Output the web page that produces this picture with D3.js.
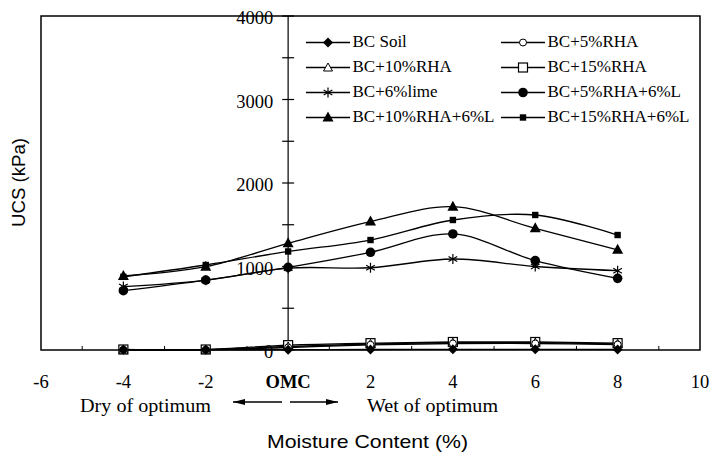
<!DOCTYPE html>
<html><head><meta charset="utf-8">
<script src="https://cdn.jsdelivr.net/npm/d3@7"></script>
<style>
body{margin:0;background:#fff;}
text{fill:#000;}
</style></head>
<body>
<svg id="c" width="711" height="453"></svg>
<script>
const moisture = [-4, -2, 0, 2, 4, 6, 8];
const seriesNames = ["BC Soil", "BC+5%RHA", "BC+10%RHA", "BC+15%RHA", "BC+6%lime", "BC+5%RHA+6%L", "BC+10%RHA+6%L", "BC+15%RHA+6%L"];
const bcSoil      = [2, 2, 4, 6, 8, 8, 6];
const bc5RHA      = [4, 4, 30, 62, 78, 78, 66];
const bc10RHA     = [5, 5, 42, 72, 88, 88, 74];
const bc15RHA     = [6, 6, 58, 82, 96, 96, 82];
const bc6Lime     = [760, 835, 980, 985, 1090, 1000, 950];
const bc5RHA6L    = [710, 838, 990, 1170, 1390, 1070, 858];
const bc10RHA6L   = [886, 998, 1278, 1538, 1716, 1457, 1200];
const bc15RHA6L   = [876, 1018, 1180, 1317, 1557, 1617, 1377];
const xTickLabels = ["-6", "-4", "-2", "OMC", "2", "4", "6", "8", "10"];
const yTickLabels = ["0", "1000", "2000", "3000", "4000"];

const values = [bcSoil, bc5RHA, bc10RHA, bc15RHA, bc6Lime, bc5RHA6L, bc10RHA6L, bc15RHA6L];
const markers = ["diamond", "ocircle", "otriangle", "osquare", "asterisk", "circle", "triangle", "smallsquare"];

const svg = d3.select("#c");
const L = 41, R = 700, T = 16, B = 350;
const x = d3.scaleLinear().domain([-6, 10]).range([L, R]);
const y = d3.scaleLinear().domain([0, 4000]).range([B, T]);
const serif = "'Liberation Serif','Times New Roman',serif";
const sans = "'Liberation Sans',Arial,sans-serif";

// frame
svg.append("rect").attr("x", L).attr("y", T).attr("width", R - L).attr("height", B - T)
  .attr("fill", "none").attr("stroke", "#000").attr("stroke-width", 1.5);

// x ticks (inward)
const xg = svg.append("g");
d3.range(-5, 10, 1).forEach(v => {
  xg.append("line").attr("x1", x(v)).attr("x2", x(v)).attr("y1", B).attr("y2", B - 4)
    .attr("stroke", "#000").attr("stroke-width", 1);
});
d3.range(-6, 11, 2).forEach((v, i) => {
  xg.append("text").attr("x", x(v)).attr("y", 388).attr("text-anchor", "middle")
    .attr("font-family", serif).attr("font-size", 18.5)
    .attr("font-weight", xTickLabels[i] === "OMC" ? "bold" : "normal")
    .text(xTickLabels[i]);
});

// y axis at x = 0
const yg = svg.append("g");
yg.append("line").attr("x1", x(0)).attr("x2", x(0)).attr("y1", T).attr("y2", B)
  .attr("stroke", "#000").attr("stroke-width", 1.2);
d3.range(0, 4001, 500).forEach(v => {
  yg.append("line").attr("x1", x(0) - 6).attr("x2", x(0) + 6).attr("y1", y(v)).attr("y2", y(v))
    .attr("stroke", "#000").attr("stroke-width", 1.2);
});
yTickLabels.forEach(t => {
  yg.append("text").attr("x", x(0) - 15).attr("y", y(+t) + 8).attr("text-anchor", "end")
    .attr("font-family", serif).attr("font-size", 18.5).text(t);
});

// marker drawing
function drawMarker(g, type, cx, cy) {
  const s = g.append("g").attr("transform", `translate(${cx},${cy})`);
  switch (type) {
    case "diamond":
      s.append("path").attr("d", "M0,-5L5,0L0,5L-5,0Z").attr("fill", "#000"); break;
    case "ocircle":
      s.append("circle").attr("r", 3.5).attr("fill", "#fff").attr("stroke", "#000").attr("stroke-width", 1); break;
    case "otriangle":
      s.append("path").attr("d", "M0,-4.5L4.5,3.5L-4.5,3.5Z").attr("fill", "#fff").attr("stroke", "#000").attr("stroke-width", 1); break;
    case "osquare":
      s.append("rect").attr("x", -4.5).attr("y", -4.5).attr("width", 9).attr("height", 9)
        .attr("fill", "#fff").attr("stroke", "#000").attr("stroke-width", 1.2); break;
    case "asterisk":
      s.append("path").attr("d", d3.symbol().type(d3.symbolAsterisk).size(70)()).attr("fill", "none")
        .attr("stroke", "#000").attr("stroke-width", 1.2); break;
    case "circle":
      s.append("circle").attr("r", 4.8).attr("fill", "#000"); break;
    case "triangle":
      s.append("path").attr("d", "M0,-6L5.5,4L-5.5,4Z").attr("fill", "#000"); break;
    case "smallsquare":
      s.append("rect").attr("x", -3.2).attr("y", -3.2).attr("width", 6.4).attr("height", 6.4).attr("fill", "#000"); break;
  }
}

// series
const line = d3.line().x((d, i) => x(moisture[i])).y(d => y(d)).curve(d3.curveCatmullRom.alpha(0.5));
const sg = svg.append("g");
values.forEach(vals => {
  sg.append("path").attr("d", line(vals)).attr("fill", "none").attr("stroke", "#000").attr("stroke-width", 1.3);
});
[3, 2, 1, 0, 4, 5, 6, 7].forEach(si => {
  values[si].forEach((v, i) => drawMarker(sg, markers[si], x(moisture[i]), y(v)));
});

// legend
const lg = svg.append("g");
seriesNames.forEach((name, i) => {
  const col = i % 2, row = Math.floor(i / 2);
  const lx = col === 0 ? 306 : 501;
  const ly = 42.5 + row * 25;
  lg.append("line").attr("x1", lx).attr("x2", lx + 44).attr("y1", ly).attr("y2", ly)
    .attr("stroke", "#000").attr("stroke-width", 1.4);
  drawMarker(lg, markers[i], lx + 22, ly);
  lg.append("text").attr("x", lx + 46.5).attr("y", ly + 4.5).attr("font-family", serif)
    .attr("font-size", 17).text(name);
});

// arrows and annotations
const defs = svg.append("defs");
defs.append("marker").attr("id", "ah").attr("viewBox", "0 0 12 6").attr("refX", 12).attr("refY", 3)
  .attr("markerWidth", 12).attr("markerHeight", 6).attr("markerUnits", "userSpaceOnUse").attr("orient", "auto")
  .append("path").attr("d", "M0,0L12,3L0,6Z").attr("fill", "#000");
svg.append("line").attr("x1", 282).attr("x2", 233).attr("y1", 402).attr("y2", 402)
  .attr("stroke", "#000").attr("stroke-width", 1.5).attr("marker-end", "url(#ah)");
svg.append("line").attr("x1", 290).attr("x2", 338).attr("y1", 402).attr("y2", 402)
  .attr("stroke", "#000").attr("stroke-width", 1.5).attr("marker-end", "url(#ah)");
svg.append("text").attr("x", 80).attr("y", 412).attr("font-family", serif).attr("font-size", 18.5)
  .attr("textLength", 131).attr("lengthAdjust", "spacingAndGlyphs").text("Dry of optimum");
svg.append("text").attr("x", 367).attr("y", 412).attr("font-family", serif).attr("font-size", 18.5)
  .attr("textLength", 131).attr("lengthAdjust", "spacingAndGlyphs").text("Wet of optimum");

// axis titles
svg.append("text").attr("x", 267).attr("y", 448).attr("font-family", sans).attr("font-size", 18.5)
  .attr("textLength", 201).attr("lengthAdjust", "spacingAndGlyphs").text("Moisture Content (%)");
svg.append("text").attr("transform", "translate(25,227) rotate(-90)")
  .attr("font-family", sans).attr("font-size", 18.5)
  .attr("textLength", 89).attr("lengthAdjust", "spacingAndGlyphs").text("UCS (kPa)");
</script>
</body></html>
